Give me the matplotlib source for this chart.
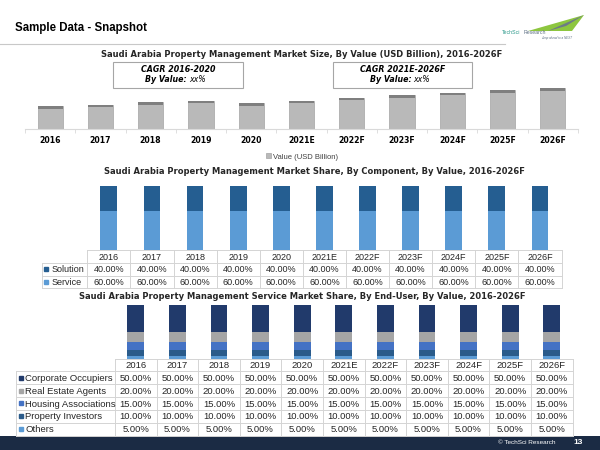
import matplotlib
matplotlib.use("Agg")
import matplotlib.pyplot as plt
from matplotlib.patches import Rectangle, Polygon
import numpy as np

W, H = 600, 450

years = ["2016", "2017", "2018", "2019", "2020", "2021E", "2022F", "2023F", "2024F", "2025F", "2026F"]

# market size (USD Billion) - no axis shown
market_value = [2.3, 2.45, 2.7, 2.85, 2.6, 2.85, 3.15, 3.4, 3.65, 3.9, 4.1]

# share by component (%)
component_labels = ["Solution", "Service"]
solution_share = [40.0, 40.0, 40.0, 40.0, 40.0, 40.0, 40.0, 40.0, 40.0, 40.0, 40.0]
service_share = [60.0, 60.0, 60.0, 60.0, 60.0, 60.0, 60.0, 60.0, 60.0, 60.0, 60.0]
component_colors = ["#255e91", "#5b9bd5"]

# service share by end-user (%)
enduser_labels = ["Corporate Occupiers", "Real Estate Agents", "Housing Associations",
                  "Property Investors", "Others"]
corporate = [50.0, 50.0, 50.0, 50.0, 50.0, 50.0, 50.0, 50.0, 50.0, 50.0, 50.0]
real_estate = [20.0, 20.0, 20.0, 20.0, 20.0, 20.0, 20.0, 20.0, 20.0, 20.0, 20.0]
housing = [15.0, 15.0, 15.0, 15.0, 15.0, 15.0, 15.0, 15.0, 15.0, 15.0, 15.0]
investors = [10.0, 10.0, 10.0, 10.0, 10.0, 10.0, 10.0, 10.0, 10.0, 10.0, 10.0]
others = [5.0, 5.0, 5.0, 5.0, 5.0, 5.0, 5.0, 5.0, 5.0, 5.0, 5.0]
enduser_colors = ["#213a6b", "#a5a5a5", "#4472c4", "#2a5b8a", "#5b9bd5"]

TITLE_FONT = "DejaVu Sans"
TABLE_FONT = "Liberation Sans"
GRID = "#d4d4d4"

fig = plt.figure(figsize=(6, 4.5), dpi=100)


def px_axes(left, top, right, bottom):
    # axes placed by pixel edges (origin top-left)
    ax = fig.add_axes([left / W, 1 - bottom / H, (right - left) / W, (bottom - top) / H])
    ax.patch.set_alpha(0)
    return ax


# background layer for slide decorations
bg = px_axes(0, 0, W, H)
bg.set_xlim(0, W)
bg.set_ylim(H, 0)
bg.axis("off")

bg.text(15, 27.7, "Sample Data - Snapshot", fontsize=8.3, fontweight="bold",
        family="Liberation Sans", va="center", ha="left")
bg.plot([0, 505], [43.5, 43.5], color="#c8c8c8", lw=0.8)

# logo
bg.add_patch(Polygon([[528, 31], [584, 15], [572, 31]], closed=True, color="#8dc63f", lw=0))
bg.add_patch(Polygon([[548, 31], [584, 15], [566, 26]], closed=True, color="#6d7b86", lw=0))
bg.text(502, 33, "TechSci", fontsize=3.8, color="#2e9a8c", va="center", ha="left", family=TABLE_FONT)
bg.text(524, 33, "Research", fontsize=3.8, color="#5d6f84", va="center", ha="left", family=TABLE_FONT)
bg.text(541, 38.3, "Jump ahead to a NEXT", fontsize=2.2, color="#5d6f84", style="italic",
        va="center", ha="left", family=TABLE_FONT)

# footer
bg.add_patch(Rectangle((0, 436), W, 14, color="#1b2b44", lw=0))
bg.text(555, 443, "\u00a9 TechSci Research", fontsize=4.6, color="white", va="center",
        ha="right", family=TABLE_FONT)
bg.text(578, 443, "13", fontsize=6, color="white", fontweight="bold", va="center", ha="center",
        family=TABLE_FONT)

# ---------------- chart 1: market size ----------------
bg.text(302, 54.5, "Saudi Arabia Property Management Market Size, By Value (USD Billion), 2016-2026F",
        fontsize=6.0, fontweight="bold", color="#262626", ha="center", va="center", family=TITLE_FONT)

for (l, r), lines in zip([(113, 243), (333, 472)],
                         [("CAGR 2016-2020", "xx%"), ("CAGR 2021E-2026F", "xx%")]):
    bg.add_patch(Rectangle((l, 62), r - l, 26, fill=False, edgecolor="#a6a6a6", lw=0.8))
    cx = (l + r) / 2
    bg.text(cx, 70, lines[0], fontsize=5.7, fontweight="bold", style="italic",
            ha="center", va="center", family=TITLE_FONT)
    bg.text(cx + 9, 79.5, "By Value:", fontsize=5.7, fontweight="bold", style="italic",
            ha="right", va="center", family=TITLE_FONT)
    bg.text(cx + 11, 79.5, lines[1], fontsize=5.7, style="italic",
            ha="left", va="center", family=TITLE_FONT)

ax1 = px_axes(25, 85.3, 578, 129.3)
x = np.arange(len(years))
vals = np.array(market_value)
bars = ax1.bar(x, vals, width=0.5, color="#b9b9b9", edgecolor="#a3a3a3", linewidth=0.5)
band = np.full(len(years), 0.25)
ax1.bar(x, band, bottom=vals - band, width=0.5, color="#7f7f7f", linewidth=0)
ax1.set_xlim(-0.5, 10.5)
ax1.set_ylim(0, 4.4)
for s in ["top", "right", "left"]:
    ax1.spines[s].set_visible(False)
ax1.spines["bottom"].set_color("#d9d9d9")
ax1.set_yticks([])
ax1.set_xticks(x, labels=years)
ax1.set_xticks(np.arange(-0.5, 11, 1), minor=True)
ax1.tick_params(axis="x", which="major", length=0, pad=5)
ax1.tick_params(axis="x", which="minor", length=3, color="#d9d9d9")
for lab in ax1.get_xticklabels():
    lab.set_fontsize(5.6)
    lab.set_fontweight("bold")
    lab.set_family(TITLE_FONT)
ax1.legend([bars], ["Value (USD Billion)"], loc="center", bbox_to_anchor=(302 / W, 1 - 157 / H),
           bbox_transform=fig.transFigure, frameon=False, handlelength=0.6, handleheight=0.6,
           handletextpad=0.2, prop={"family": TABLE_FONT, "size": 5.5}, labelcolor="#404040")


def draw_table(left, top, right, bottom, label_w, col_w, rows, labels, colors, fsize, mk_off, txt_off):
    ax = px_axes(left, top, right, bottom)
    n = len(years)
    x0 = -0.5 - label_w / col_w
    ax.set_xlim(x0, n - 0.5)
    nrows = len(rows) + 1
    ax.set_ylim(nrows, 0)
    ax.axis("off")
    ax.plot([-0.5, n - 0.5], [0, 0], color=GRID, lw=0.7, clip_on=False)
    for r in range(1, nrows + 1):
        ax.plot([x0, n - 0.5], [r, r], color=GRID, lw=0.7, clip_on=False)
    for k in range(n + 1):
        ax.plot([k - 0.5, k - 0.5], [0, nrows], color=GRID, lw=0.7, clip_on=False)
    ax.plot([x0, x0], [1, nrows], color=GRID, lw=0.7, clip_on=False)
    for i, yr in enumerate(years):
        ax.text(i, 0.55, yr, fontsize=fsize, ha="center", va="center", family=TABLE_FONT, color="#262626")
    for r, (vals_r, lab, col) in enumerate(zip(rows, labels, colors)):
        yy = r + 1.55
        ax.plot([x0 + mk_off / col_w], [yy - 0.05], marker="s", markersize=3, color=col, clip_on=False)
        ax.text(x0 + txt_off / col_w, yy, lab, fontsize=fsize, ha="left", va="center",
                family=TABLE_FONT, color="#262626")
        for i, v in enumerate(vals_r):
            ax.text(i, yy, f"{v:.2f}%", fontsize=fsize, ha="center", va="center",
                    family=TABLE_FONT, color="#262626")
    return ax


# ---------------- chart 2: by component ----------------
bg.text(314, 171.5, "Saudi Arabia Property Management Market Share, By Component, By Value, 2016-2026F",
        fontsize=6.0, fontweight="bold", color="#262626", ha="center", va="center", family=TITLE_FONT)
ax2 = px_axes(87.3, 185.7, 561.5, 250.2)
ax2.bar(x, service_share, width=0.39, color=component_colors[1])
ax2.bar(x, solution_share, bottom=service_share, width=0.39, color=component_colors[0])
ax2.set_xlim(-0.5, 10.5)
ax2.set_ylim(0, 100)
ax2.axis("off")
draw_table(41.7, 250.2, 561.5, 288.2, 45.6, 43.1, [solution_share, service_share],
           component_labels, component_colors, 6.5, 4.5, 9.5)

# ---------------- chart 3: by end-user ----------------
bg.text(302.5, 296.8, "Saudi Arabia Property Management Service Market Share, By End-User, By Value, 2016-2026F",
        fontsize=6.0, fontweight="bold", color="#262626", ha="center", va="center", family=TITLE_FONT)
ax3 = px_axes(115, 305, 572.6, 358.5)
stack = [others, investors, housing, real_estate, corporate]
stack_cols = enduser_colors[::-1]
bottom = np.zeros(len(years))
for s, c in zip(stack, stack_cols):
    ax3.bar(x, s, bottom=bottom, width=0.4, color=c)
    bottom += np.array(s)
ax3.set_xlim(-0.5, 10.5)
ax3.set_ylim(0, 100)
ax3.axis("off")
draw_table(16, 358.5, 572.6, 435.6, 99, 41.6, [corporate, real_estate, housing, investors, others],
           enduser_labels, enduser_colors, 6.8, 5.5, 9)

fig.savefig("out.png", dpi=100)
